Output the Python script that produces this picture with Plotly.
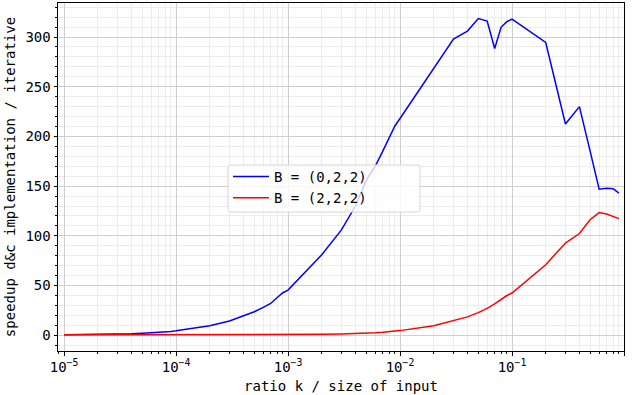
import plotly.graph_objects as go

# ratio k / size of input
ratio = [1e-5, 2e-5, 3e-5, 4e-5, 5e-5, 6e-5, 7e-5, 8e-5, 9e-5,
         1e-4, 2e-4, 3e-4, 4e-4, 5e-4, 6e-4, 7e-4, 8e-4, 9e-4,
         1e-3, 2e-3, 3e-3, 4e-3, 5e-3, 6e-3, 7e-3, 8e-3, 9e-3,
         1e-2, 2e-2, 3e-2, 4e-2, 5e-2, 6e-2, 7e-2, 8e-2, 9e-2,
         0.1, 0.2, 0.3, 0.4, 0.5, 0.6, 0.7, 0.8, 0.9]

# speedup for B = (0,2,2)
speedup_022 = [0.5, 0.8, 1.1, 1.5, 2.0, 2.4, 2.7, 3.3, 3.9,
               4.5, 9.5, 14.4, 19.6, 23.7, 28.0, 32.0, 38.0, 42.8,
               45.5, 81.0, 106.0, 130.0, 156.0, 170.0, 185.0, 198.0, 210.5,
               218.0, 268.5, 298.0, 306.0, 318.5, 316.0, 288.5, 310.0, 315.5,
               318.0, 294.5, 212.5, 230.0, 184.5, 147.0, 148.0, 147.5, 143.0]

# speedup for B = (2,2,2)
speedup_222 = [0.5, 0.5, 0.5, 0.5, 0.5, 0.5, 0.5, 0.5, 0.5,
               0.6, 0.6, 0.6, 0.7, 0.7, 0.7, 0.7, 0.8, 0.8,
               0.8, 1.0, 1.3, 1.6, 2.0, 2.5, 3.0, 3.6, 4.2,
               4.7, 9.5, 14.5, 18.5, 22.8, 27.0, 31.5, 36.5, 40.0,
               42.5, 71.0, 92.8, 102.3, 116.5, 123.4, 122.0, 119.8, 117.3]

x_tickvals = [1e-5, 1e-4, 1e-3, 1e-2, 1e-1, 1e0]
x_ticktext = ["10<sup>\u22125</sup>", "10<sup>\u22124</sup>", "10<sup>\u22123</sup>",
              "10<sup>\u22122</sup>", "10<sup>\u22121</sup>", "10<sup>0</sup>"]
y_tickvals = [0, 50, 100, 150, 200, 250, 300]

FONT = "DejaVu Sans Mono"
W, H = 635, 395
M_L, M_R, M_T, M_B = 58, 11, 3, 44
PW, PH = W - M_L - M_R, H - M_T - M_B


def px_to_paper(xp, yp):
    return (xp - M_L) / PW, (H - M_B - yp) / PH


def rounded_box(x0, y0, x1, y1, r):
    """Rounded rectangle path in paper coordinates from pixel corners."""
    rx, ry = r / PW, r / PH
    a, b = px_to_paper(x0, y1)  # bottom-left
    c, d = px_to_paper(x1, y0)  # top-right
    return (f"M{a + rx},{b} L{c - rx},{b} Q{c},{b} {c},{b + ry} "
            f"L{c},{d - ry} Q{c},{d} {c - rx},{d} L{a + rx},{d} "
            f"Q{a},{d} {a},{d - ry} L{a},{b + ry} Q{a},{b} {a + rx},{b} Z")


fig = go.Figure()
fig.add_trace(go.Scatter(x=ratio, y=speedup_022, mode="lines", name="B = (0,2,2)",
                         line=dict(color="#0000ff", width=1.5)))
fig.add_trace(go.Scatter(x=ratio, y=speedup_222, mode="lines", name="B = (2,2,2)",
                         line=dict(color="#ff0000", width=1.5)))

axis_common = dict(
    showline=True, linecolor="black", linewidth=1, mirror=True,
    ticks="outside", ticklen=3.5, tickwidth=1, tickcolor="black",
    showgrid=True, gridcolor="#cfcfcf", gridwidth=1,
    zeroline=False,
    tickfont=dict(family=FONT, size=14, color="black"),
)

fig.update_xaxes(
    type="log", range=[-5.054, 0],
    tickvals=x_tickvals, ticktext=x_ticktext,
    minor=dict(dtick="D1", ticks="outside", ticklen=2, tickcolor="black",
               showgrid=True, gridcolor="#ececec", gridwidth=1),
    title=dict(text="ratio k / size of input", font=dict(family=FONT, size=14, color="black"),
               standoff=6),
    **axis_common,
)
fig.update_yaxes(
    range=[-15.8, 334.2],
    tickvals=y_tickvals,
    minor=dict(dtick=10, tick0=0, ticks="outside", ticklen=2, tickcolor="black",
               showgrid=True, gridcolor="#ececec", gridwidth=1),
    title=dict(text="speedup d&c implementation / iterative",
               font=dict(family=FONT, size=14, color="black"), standoff=6),
    **axis_common,
)

# legend frame: translucent white rounded box
fig.add_shape(type="path", xref="paper", yref="paper", layer="above",
              path=rounded_box(228, 165, 420, 212, 3),
              fillcolor="rgba(255,255,255,0.8)",
              line=dict(color="#d6d6d6", width=1))

lx, ly = px_to_paper(228, 161)
fig.update_layout(
    width=W, height=H,
    margin=dict(l=M_L, r=M_R, t=M_T, b=M_B, autoexpand=False),
    plot_bgcolor="white", paper_bgcolor="white",
    font=dict(family=FONT, size=14, color="black"),
    showlegend=True,
    legend=dict(x=lx, y=ly, xanchor="left", yanchor="top", itemwidth=36,
                bgcolor="rgba(0,0,0,0)", borderwidth=0,
                font=dict(family=FONT, size=14, color="black")),
)

fig.write_html("out.html")
